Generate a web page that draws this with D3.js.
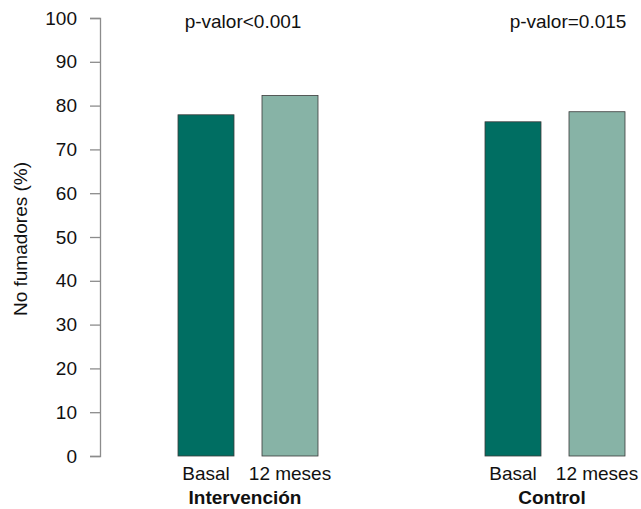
<!DOCTYPE html>
<html>
<head>
<meta charset="utf-8">
<script src="https://cdn.jsdelivr.net/npm/d3@7"></script>
<style>
  body { margin: 0; background: #fff; }
  svg { font-family: "Liberation Sans", Arial, sans-serif; }
</style>
</head>
<body>
<svg id="chart" width="641" height="509"></svg>
<script>
// Non-smokers (%) at baseline and after 12 months, by study arm
const groups = ["Intervención", "Control"];
const periods = ["Basal", "12 meses"];
const basal = [77.9, 76.3];
const meses12 = [82.3, 78.6];
const pValues = ["p-valor<0.001", "p-valor=0.015"];
const yTicks = [0, 10, 20, 30, 40, 50, 60, 70, 80, 90, 100];

const colors = { "Basal": "#006E62", "12 meses": "#87B3A6" };
const FS = 19;

const svg = d3.select("#chart");

const y = d3.scaleLinear().domain([0, 100]).range([456, 18]);

const xGroup = d3.scalePoint().domain(groups).range([248, 555]);
const xInner = d3.scaleBand().domain(periods).range([-70, 70])
  .paddingInner(1 / 3).paddingOuter(0);

// Y axis
const yAxis = d3.axisLeft(y).tickValues(yTicks).tickSize(10).tickPadding(13);
const gy = svg.append("g").attr("transform", "translate(100,0)").call(yAxis);
gy.select(".domain").attr("stroke", "#8c8c8c").attr("stroke-width", 1.3);
gy.selectAll(".tick line").attr("stroke", "#8c8c8c").attr("stroke-width", 1.3);
gy.selectAll(".tick text").attr("font-size", FS).attr("fill", "#111")
  .attr("font-family", "Liberation Sans, Arial, sans-serif");

svg.append("text")
  .attr("transform", `translate(27,${y(50) + 2}) rotate(-90)`)
  .attr("text-anchor", "middle")
  .attr("font-size", FS)
  .attr("fill", "#111")
  .text("No fumadores (%)");

// Bars
const rows = [];
groups.forEach((g, i) => {
  rows.push({ group: g, period: "Basal", value: basal[i] });
  rows.push({ group: g, period: "12 meses", value: meses12[i] });
});

svg.append("g").selectAll("rect").data(rows).join("rect")
  .attr("x", d => xGroup(d.group) + xInner(d.period))
  .attr("y", d => y(d.value))
  .attr("width", xInner.bandwidth())
  .attr("height", d => y(0) - y(d.value))
  .attr("fill", d => colors[d.period])
  .attr("stroke", "#3a3a3a")
  .attr("stroke-width", 0.8);

// Period labels under each bar
svg.append("g").selectAll("text").data(rows).join("text")
  .attr("x", d => xGroup(d.group) + xInner(d.period) + xInner.bandwidth() / 2)
  .attr("y", 480)
  .attr("text-anchor", "middle")
  .attr("font-size", FS)
  .attr("fill", "#111")
  .text(d => d.period);

// Group labels
svg.append("g").selectAll("text").data(groups).join("text")
  .attr("x", d => xGroup(d) - 3)
  .attr("y", 504)
  .attr("text-anchor", "middle")
  .attr("font-size", FS)
  .attr("font-weight", "bold")
  .attr("fill", "#111")
  .text(d => d);

// p-values above each group
svg.append("g").selectAll("text").data(groups).join("text")
  .attr("x", (d, i) => xGroup(d) + (i === 0 ? -5 : 13))
  .attr("y", 28)
  .attr("text-anchor", "middle")
  .attr("font-size", FS)
  .attr("fill", "#111")
  .text((d, i) => pValues[i]);
</script>
</body>
</html>
